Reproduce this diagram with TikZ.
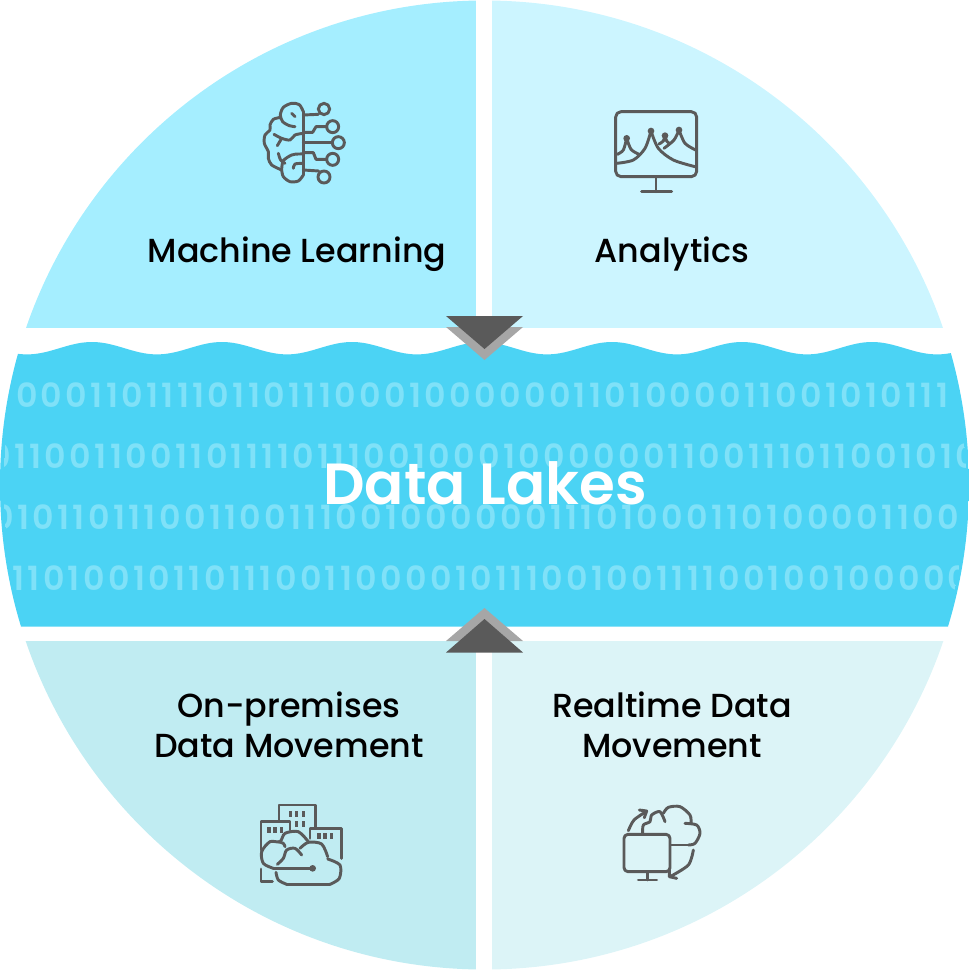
\documentclass[tikz,border=0pt]{standalone}
\usepackage{fontspec}
\setmainfont{Poppins}
\newfontfamily\labelfont{Poppins Medium}
\newfontfamily\bitfont[LetterSpace=10]{Poppins SemiBold}
\newfontfamily\titlefont{Poppins SemiBold}
\definecolor{mlblue}{HTML}{A5EEFF}
\definecolor{anblue}{HTML}{CCF5FF}
\definecolor{onblue}{HTML}{C0ECF2}
\definecolor{rtblue}{HTML}{DCF4F7}
\definecolor{lakeblue}{HTML}{4BD3F4}
\definecolor{bitblue}{HTML}{7FE1F8}
\definecolor{icongray}{HTML}{5A5A5A}
\definecolor{lightgray}{HTML}{A6A6A6}
\tikzset{
	topic/.style={inner sep=0pt,align=center,text=black,font=\labelfont\fontsize{25}{30}\selectfont},
	bits/.style={inner sep=0pt,anchor=base west,text=bitblue,font=\bitfont\fontsize{25}{30}\selectfont},
	icon/.style={draw=icongray,line width=2.2pt,line cap=round,line join=round},
	windows/.style={fill=icongray}
}
\begin{document}
\begin{tikzpicture}[x=0.75pt,y=-0.75pt]
	\useasboundingbox (0,0) rectangle (969,970);

	\begin{scope}
		\clip (484.5,485) circle[radius=484.5];
		\fill[mlblue] (0,0) rectangle (476,328);
		\fill[anblue] (492,0) rectangle (969,328);
		\fill[onblue] (0,641) rectangle (476,970);
		\fill[rtblue] (492,641) rectangle (969,970);
		\fill[lakeblue] plot[domain=0:969,samples=250] (\x,{348.2-6.2*cos(2.769*(\x-482))}) -- (969,626.5) -- (0,626.5) -- cycle;
	\end{scope}

	\begin{scope}
		\clip (484.5,485) circle[radius=481];
		\node[bits] (row1) at (-9,407) {00001101111011011100010000001101000011001010111};
		\node[bits] (row2) at (-11,468) {0110011001101111011100100010000001100111011001010};
		\node[bits] (row3) at (-8,529) {01011011100110011100100000011101000110100001100};
		\node[bits] (row4) at (12,590) {11010010110111001100001011100100111100100100000};
	\end{scope}

	\node[inner sep=0pt,text=white,font=\titlefont\fontsize{43.5}{48}\selectfont] (lake) at (485,483) {Data Lakes};

	\node[topic] (ml) at (297,254) {Machine Learning};
	\node[topic] (an) at (672,254) {Analytics};
	\node[topic] (on) at (289,725) {On-premises\\Data Movement};
	\node[topic] (rt) at (672,725) {Realtime Data\\Movement};

	\fill[lightgray] (446,327) -- (523,327) -- (484.5,360) -- cycle;
	\fill[icongray] (446,316) -- (523,316) -- (484.5,349) -- cycle;
	\fill[lightgray] (446,641) -- (523,641) -- (484.5,608) -- cycle;
	\fill[icongray] (446,652.5) -- (523,652.5) -- (484.5,619) -- cycle;

	% brain
	\begin{scope}[shift={(240,80)},x=0.25pt,y=-0.25pt]
		\draw[icon] (190,95) -- (190,285);
		\draw[icon] plot[smooth] coordinates {(190,95) (178,74) (155,70) (130,82) (121,105) (128,125) (148,137) (165,140)};
		\draw[icon] plot[smooth] coordinates {(122,112) (100,118) (90,135) (90,150) (75,165) (73,190) (85,215) (85,235) (95,255) (125,270)};
		\draw[icon] plot[smooth] coordinates {(125,270) (130,290) (150,305) (175,303) (190,285)};
		\draw[icon] (155,100) -- (165,110);
		\draw[icon] plot[smooth] coordinates {(102,163) (125,175) (150,180) (165,165) (190,160)};
		\draw[icon] (125,175) -- (112,197);
		\draw[icon] plot[smooth] coordinates {(115,220) (122,240) (135,250)};
		\draw[icon] plot[smooth] coordinates {(125,268) (130,242) (155,225) (175,222) (190,222)};
		\draw[icon] plot[smooth] coordinates {(160,265) (165,252) (190,250)};
		\draw[icon] (190,105) -- (235,103);
		\draw[icon] (252,87) circle[radius=17];
		\draw[icon] (190,157) -- (218,157) -- (228,140) -- (260,140);
		\draw[icon] (278,140) circle[radius=18];
		\draw[icon] (190,187) -- (277,187);
		\draw[icon] (295,188) circle[radius=18];
		\draw[icon] (190,218) -- (220,218) -- (228,238) -- (260,238);
		\draw[icon] (278,238) circle[radius=18];
		\draw[icon] (190,270) -- (236,273);
		\draw[icon] (252,291) circle[radius=18];
	\end{scope}

	% monitor with peaks
	\begin{scope}[shift={(600,95)},x=0.25pt,y=-0.25pt]
		\draw[icon,rounded corners=4pt] (47,50) rectangle (290,245);
		\draw[icon] (168,245) -- (168,290);
		\draw[icon] (125,290) -- (215,290);
		\foreach \px/\py in {80/130,153/108,195/122,237/105}
			\fill[icongray] (\px,\py) circle[radius=10];
		\draw[icon] plot[smooth] coordinates {(52,178) (70,165) (80,130)};
		\draw[icon] plot[smooth] coordinates {(80,130) (93,163) (115,177)};
		\draw[icon] plot[smooth] coordinates {(50,205) (100,195) (135,160) (153,108)};
		\draw[icon] plot[smooth] coordinates {(153,108) (175,160) (220,195) (285,215)};
		\draw[icon] plot[smooth] coordinates {(177,147) (190,138) (195,122)};
		\draw[icon] plot[smooth] coordinates {(195,122) (200,138) (208,145)};
		\draw[icon] plot[smooth] coordinates {(192,160) (222,135) (237,105)};
		\draw[icon] plot[smooth] coordinates {(237,105) (255,145) (287,165)};
	\end{scope}

	% buildings and clouds
	\begin{scope}[shift={(245,795)},x=0.25pt,y=-0.25pt]
		\draw[icon] (102,75) -- (102,30) -- (212,30) -- (212,100);
		\draw[icon] (48,165) -- (48,80) -- (135,80) -- (135,105);
		\draw[icon] (195,130) -- (195,100) -- (290,100) -- (290,190);
		\draw[icon] (48,222) -- (48,260) -- (82,260);
		\foreach \wx/\wy in {137/57,155/57,175/57,155/87,175/87,72/105,90/105,110/105,222/123,240/123,260/123}
			\fill[windows] (\wx-5,\wy-8) rectangle (\wx+5,\wy+8);
		\draw[icon] plot[smooth] coordinates {(85,220) (55,205) (50,170) (75,140) (105,140) (120,115) (160,110) (190,140)};
		\draw[icon] (85,220) -- (203,220);
		\draw[icon] plot[smooth] coordinates {(100,140) (115,145) (120,155)};
		\draw[icon] plot[smooth] coordinates {(97,208) (115,190) (125,165) (150,160) (170,180)};
		\draw[icon] plot[smooth] coordinates {(165,160) (190,142) (230,147) (248,185)};
		\draw[icon] plot[smooth] coordinates {(248,192) (285,210) (283,250) (255,268)};
		\draw[icon] (255,268) -- (125,268);
		\draw[icon] plot[smooth] coordinates {(125,268) (100,255) (93,232)};
		\fill[icongray] (203,220) circle[radius=10];
	\end{scope}

	% monitor with cloud
	\begin{scope}[shift={(610,795)},x=0.25pt,y=-0.25pt]
		\draw[icon,rounded corners=3pt] (42,118) rectangle (180,230);
		\draw[icon] (112,230) -- (112,255);
		\draw[icon] (85,255) -- (140,255);
		\draw[icon] plot[smooth] coordinates {(98,115) (100,90) (120,80) (125,60) (150,50) (165,80)};
		\draw[icon] plot[smooth] coordinates {(160,55) (175,37) (210,35) (240,60) (243,85)};
		\draw[icon] plot[smooth] coordinates {(225,85) (260,90) (270,115) (255,145) (235,150)};
		\draw[icon] (235,150) -- (182,150);
		\draw[icon] plot[smooth] coordinates {(55,107) (72,75) (108,50)};
		\draw[icon] (88,45) -- (110,48) -- (103,68);
		\draw[icon] plot[smooth] coordinates {(250,165) (235,210) (180,245)};
		\draw[icon] (178,225) -- (178,245) -- (200,250);
	\end{scope}
\end{tikzpicture}
\end{document}
